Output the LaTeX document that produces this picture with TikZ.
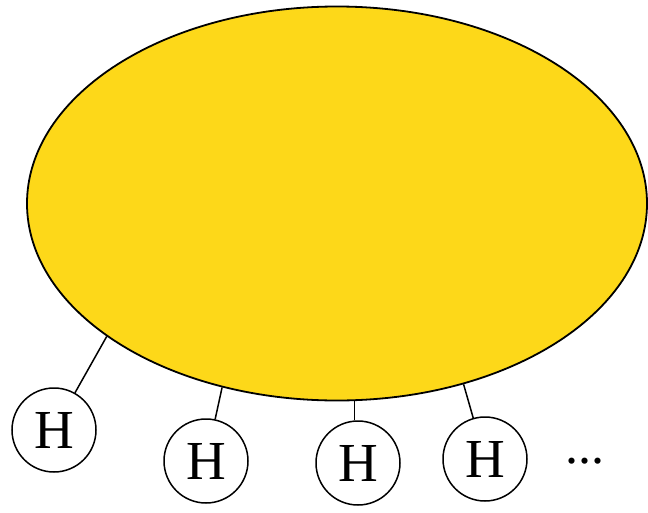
\documentclass[tikz,border=0pt]{standalone}
\usepackage{fontspec}
\setmainfont{Liberation Serif}
\usetikzlibrary{shapes.geometric}
\definecolor{sunyellow}{HTML}{FDD819}
\begin{document}
\begin{tikzpicture}[x=1pt,y=-1pt,
  hatom/.style={circle,draw,line width=1.5pt,minimum size=84pt,inner sep=0pt,font=\fontsize{55}{55}\selectfont},
  bond/.style={line width=1.5pt}]
\useasboundingbox (0,0) rectangle (648,512);
\node[ellipse,draw,line width=1.8pt,fill=sunyellow,minimum width=620pt,minimum height=394pt,inner sep=0pt] (E) at (337,203.5) {};
\node[hatom] (H1) at (54,430) {H};
\node[hatom] (H2) at (206,461) {H};
\node[hatom] (H3) at (358,463) {H};
\node[hatom] (H4) at (485,459) {H};
\node[font=\fontsize{52}{52}\selectfont,inner sep=0pt,anchor=base] (dots) at (585,463) {...};
\draw[bond] (E.210.8) -- (H1);
\draw[bond] (E.238.7) -- (H2);
\draw[bond] (E.275.5) -- (H3.north -| E.275.5);
\draw[bond] (E.305.8) -- (H4);
\end{tikzpicture}
\end{document}
